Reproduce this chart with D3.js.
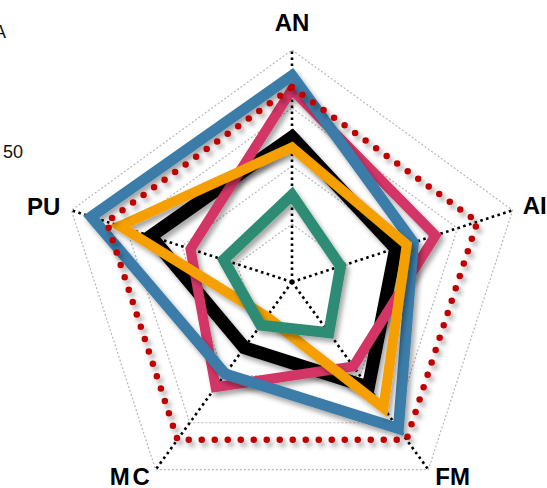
<!DOCTYPE html>
<html>
<head>
<meta charset="utf-8">
<script src="https://cdn.jsdelivr.net/npm/d3@7/dist/d3.min.js"></script>
<style>
  html, body { margin: 0; padding: 0; background: #fff; }
  svg { display: block; }
  text { font-family: "Liberation Sans", Arial, sans-serif; }
</style>
</head>
<body>
<svg id="chart" width="547" height="488"></svg>
<script>
// Radar axes, clockwise from the top
const axes = ["AN", "AI", "FM", "MC", "PU"];

// Series values (0–100) in axis order
const blueValues   = [89, 55, 78, 49, 91];
const pinkValues   = [83, 65, 45, 56, 46];
const blackValues  = [62.5, 47, 56, 35, 64];
const orangeValues = [58, 52, 67, 18.5, 78];
const greenValues  = [37.5, 22, 27, 23, 31];
const redValues    = [84, 84, 84, 84, 84];

// Grid levels
const levels = [25, 50, 75, 100];

const series = [
  { name: "black",  values: blackValues,  color: "#000000", width: 13 },
  { name: "pink",   values: pinkValues,   color: "#d33566", width: 10 },
  { name: "blue",   values: blueValues,   color: "#3a7ca8", width: 11 },
  { name: "orange", values: orangeValues, color: "#f5a000", width: 10 },
  { name: "green",  values: greenValues,  color: "#2e8c74", width: 11 },
  { name: "red",    values: redValues,    color: "#c00000", width: 6.5, dotted: true }
];

const svg = d3.select("#chart");
const cx = 292, cy = 282, R = 232;

const r = d3.scaleLinear().domain([0, 100]).range([0, R]);
const angle = d3.scalePoint().domain(axes).range([0, 2 * Math.PI * 4 / 5]);

function pt(axis, v) {
  const a = angle(axis);
  return [cx + r(v) * Math.sin(a), cy - r(v) * Math.cos(a)];
}

const defs = svg.append("defs");
defs.append("filter")
  .attr("id", "shadow")
  .attr("x", "-20%").attr("y", "-20%").attr("width", "140%").attr("height", "140%")
  .append("feDropShadow")
  .attr("dx", 3).attr("dy", 4).attr("stdDeviation", 2.5)
  .attr("flood-color", "#000").attr("flood-opacity", 0.35);

const line = d3.line().curve(d3.curveLinearClosed);

// Grid pentagons
svg.append("g").selectAll("path")
  .data(levels)
  .join("path")
  .attr("d", lv => line(axes.map(a => pt(a, lv))))
  .attr("fill", "none")
  .attr("stroke", "#b8b8b8")
  .attr("stroke-width", 1.2)
  .attr("stroke-dasharray", "2 2");

// Axis spokes
svg.append("g").selectAll("line")
  .data(axes)
  .join("line")
  .attr("x1", cx).attr("y1", cy)
  .attr("x2", a => pt(a, 100)[0])
  .attr("y2", a => pt(a, 100)[1])
  .attr("stroke", "#000")
  .attr("stroke-width", 2.6)
  .attr("stroke-dasharray", "2.6 3.4");

svg.append("circle").attr("cx", cx).attr("cy", cy).attr("r", 2.5).attr("fill", "#000");

// Series outlines
svg.append("g").selectAll("path")
  .data(series)
  .join("path")
  .attr("d", s => line(axes.map((a, i) => pt(a, s.values[i]))))
  .attr("fill", "none")
  .attr("stroke", s => s.color)
  .attr("stroke-width", s => s.width)
  .attr("stroke-linejoin", s => s.dotted ? "round" : "miter")
  .attr("stroke-linecap", s => s.dotted ? "round" : "butt")
  .attr("stroke-dasharray", s => s.dotted ? "0 13" : null)
  .attr("filter", "url(#shadow)");

// Axis labels
const labelPos = {
  AN: { dx: 0,   dy: -19, anchor: "middle", spacing: 0 },
  AI: { dx: 10,  dy: 4,   anchor: "start",  spacing: 0 },
  FM: { dx: 7,   dy: 15,  anchor: "start",  spacing: 0 },
  MC: { dx: -46, dy: 15,  anchor: "start",  spacing: 3 },
  PU: { dx: -11, dy: 5,   anchor: "end",    spacing: 0 }
};
svg.append("g").selectAll("text")
  .data(axes)
  .join("text")
  .attr("x", a => pt(a, 100)[0] + labelPos[a].dx)
  .attr("y", a => pt(a, 100)[1] + labelPos[a].dy)
  .attr("text-anchor", a => labelPos[a].anchor)
  .attr("letter-spacing", a => labelPos[a].spacing)
  .attr("font-size", 24)
  .attr("font-weight", "bold")
  .attr("fill", "#000")
  .text(a => a);

// Side texts
svg.append("text").attr("x", -6).attr("y", 38).attr("font-size", 18).attr("fill", "#111").text("A");
svg.append("text").attr("x", 3).attr("y", 158).attr("font-size", 18).attr("fill", "#111").text("50");
</script>
</body>
</html>
